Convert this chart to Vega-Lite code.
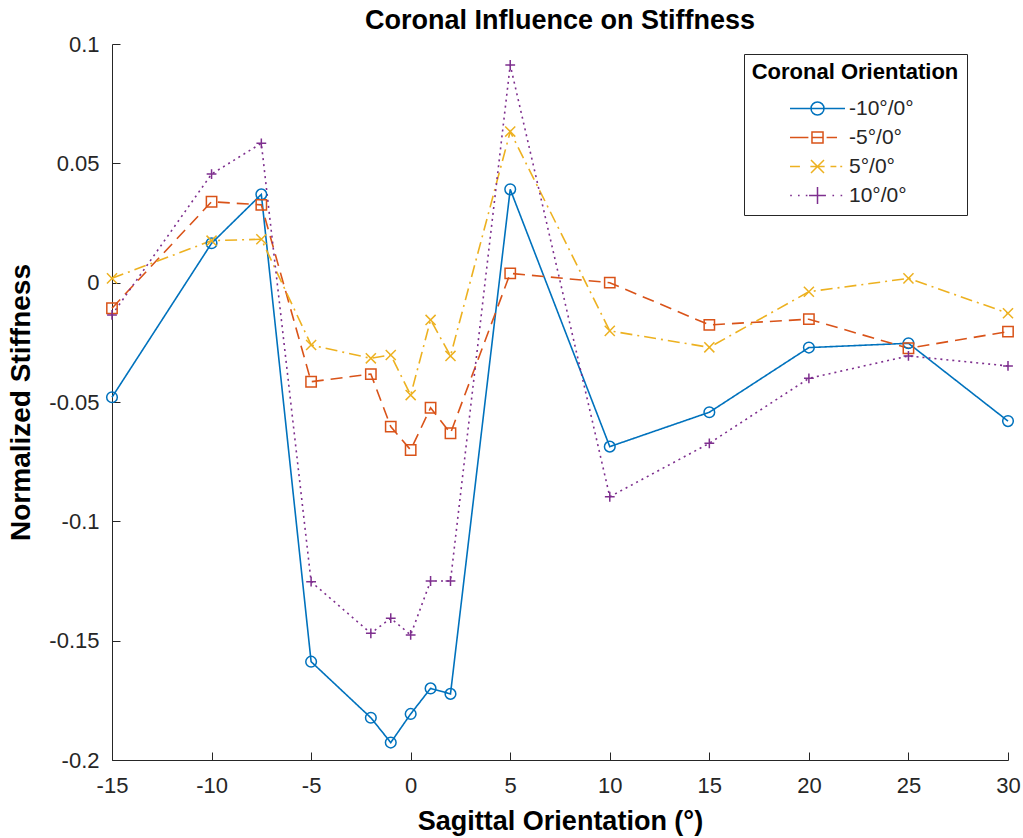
{
  "$schema": "https://vega.github.io/schema/vega-lite/v6.json",
  "width": 896,
  "height": 716,
  "autosize": "none",
  "padding": {"left": 112, "top": 44, "right": 15, "bottom": 78},
  "background": "white",
  "title": {"text": "Coronal Influence on Stiffness", "fontSize": 27, "fontWeight": "bold", "font": "Liberation Sans", "color": "#000000", "offset": 8, "dy": 10, "anchor": "middle", "frame": "group"},
  "data": {"values": [
    {"x": -15, "y": -0.048, "s": "-10°/0°"},
    {"x": -10, "y": 0.0165, "s": "-10°/0°"},
    {"x": -7.5, "y": 0.037, "s": "-10°/0°"},
    {"x": -5, "y": -0.1588, "s": "-10°/0°"},
    {"x": -2, "y": -0.1823, "s": "-10°/0°"},
    {"x": -1, "y": -0.1927, "s": "-10°/0°"},
    {"x": 0, "y": -0.1807, "s": "-10°/0°"},
    {"x": 1, "y": -0.170, "s": "-10°/0°"},
    {"x": 2, "y": -0.1723, "s": "-10°/0°"},
    {"x": 5, "y": 0.0391, "s": "-10°/0°"},
    {"x": 10, "y": -0.0687, "s": "-10°/0°"},
    {"x": 15, "y": -0.0543, "s": "-10°/0°"},
    {"x": 20, "y": -0.0272, "s": "-10°/0°"},
    {"x": 25, "y": -0.0254, "s": "-10°/0°"},
    {"x": 30, "y": -0.058, "s": "-10°/0°"},
    {"x": -15, "y": -0.0107, "s": "-5°/0°"},
    {"x": -10, "y": 0.0339, "s": "-5°/0°"},
    {"x": -7.5, "y": 0.0326, "s": "-5°/0°"},
    {"x": -5, "y": -0.0415, "s": "-5°/0°"},
    {"x": -2, "y": -0.0383, "s": "-5°/0°"},
    {"x": -1, "y": -0.0603, "s": "-5°/0°"},
    {"x": 0, "y": -0.0701, "s": "-5°/0°"},
    {"x": 1, "y": -0.0524, "s": "-5°/0°"},
    {"x": 2, "y": -0.0631, "s": "-5°/0°"},
    {"x": 5, "y": 0.0039, "s": "-5°/0°"},
    {"x": 10, "y": 0.0, "s": "-5°/0°"},
    {"x": 15, "y": -0.0177, "s": "-5°/0°"},
    {"x": 20, "y": -0.0153, "s": "-5°/0°"},
    {"x": 25, "y": -0.0275, "s": "-5°/0°"},
    {"x": 30, "y": -0.0205, "s": "-5°/0°"},
    {"x": -15, "y": 0.0018, "s": "5°/0°"},
    {"x": -10, "y": 0.0176, "s": "5°/0°"},
    {"x": -7.5, "y": 0.0182, "s": "5°/0°"},
    {"x": -5, "y": -0.0261, "s": "5°/0°"},
    {"x": -2, "y": -0.0317, "s": "5°/0°"},
    {"x": -1, "y": -0.0303, "s": "5°/0°"},
    {"x": 0, "y": -0.0471, "s": "5°/0°"},
    {"x": 1, "y": -0.0156, "s": "5°/0°"},
    {"x": 2, "y": -0.0307, "s": "5°/0°"},
    {"x": 5, "y": 0.0633, "s": "5°/0°"},
    {"x": 10, "y": -0.0202, "s": "5°/0°"},
    {"x": 15, "y": -0.0271, "s": "5°/0°"},
    {"x": 20, "y": -0.0038, "s": "5°/0°"},
    {"x": 25, "y": 0.0018, "s": "5°/0°"},
    {"x": 30, "y": -0.0128, "s": "5°/0°"},
    {"x": -15, "y": -0.0135, "s": "10°/0°"},
    {"x": -10, "y": 0.0455, "s": "10°/0°"},
    {"x": -7.5, "y": 0.0584, "s": "10°/0°"},
    {"x": -5, "y": -0.1253, "s": "10°/0°"},
    {"x": -2, "y": -0.1469, "s": "10°/0°"},
    {"x": -1, "y": -0.1406, "s": "10°/0°"},
    {"x": 0, "y": -0.1476, "s": "10°/0°"},
    {"x": 1, "y": -0.125, "s": "10°/0°"},
    {"x": 2, "y": -0.125, "s": "10°/0°"},
    {"x": 5, "y": 0.0912, "s": "10°/0°"},
    {"x": 10, "y": -0.0897, "s": "10°/0°"},
    {"x": 15, "y": -0.0673, "s": "10°/0°"},
    {"x": 20, "y": -0.0401, "s": "10°/0°"},
    {"x": 25, "y": -0.0307, "s": "10°/0°"},
    {"x": 30, "y": -0.0349, "s": "10°/0°"}
  ]},
  "encoding": {
    "x": {
      "field": "x", "type": "quantitative",
      "scale": {"domain": [-15, 30], "nice": false, "zero": false},
      "axis": {
        "title": "Sagittal Orientation (°)",
        "titleFontSize": 27,
        "values": [-15, -10, -5, 0, 5, 10, 15, 20, 25, 30],
        "format": "d",
        "labelExpr": "replace(datum.label, '\u2212', '-')",
        "labelFlush": false,
        "labelPadding": 23,
        "titlePadding": 12
      }
    },
    "y": {
      "field": "y", "type": "quantitative",
      "scale": {"domain": [-0.2, 0.1], "nice": false, "zero": false},
      "axis": {
        "title": "Normalized Stiffness",
        "titleFontSize": 28,
        "values": [-0.2, -0.15, -0.1, -0.05, 0, 0.05, 0.1],
        "format": "~g",
        "labelExpr": "replace(datum.label, '\u2212', '-')",
        "labelOverlap": false,
        "labelPadding": 21,
        "titlePadding": 13
      }
    },
    "color": {
      "field": "s", "type": "nominal",
      "scale": {"domain": ["-10°/0°", "-5°/0°", "5°/0°", "10°/0°"], "range": ["#0072BD", "#D95319", "#EDB120", "#7E2F8E"]},
      "legend": {
        "title": "Coronal Orientation",
        "orient": "none",
        "legendX": 632,
        "legendY": 10,
        "strokeColor": "#262626",
        "fillColor": "white",
        "padding": 8,
        "titleAnchor": "middle",
        "titleFontSize": 22,
        "titleFontWeight": "bold",
        "titleColor": "#000000",
        "titleFont": "Liberation Sans",
        "titleLimit": 400,
        "titlePadding": 14,
        "labelFontSize": 21,
        "labelFont": "Liberation Sans",
        "labelColor": "#262626",
        "labelLimit": 300,
        "symbolSize": 169,
        "symbolStrokeWidth": 1.5,
        "symbolOffset": 10,
        "labelOffset": 21,
        "rowPadding": 7,
        "encode": {
          "symbols": {
            "update": {
              "shape": {"signal": "datum.value === '-10°/0°' ? 'M-4.23,0L4.23,0M-1,0A1,1,0,1,1,1,0A1,1,0,1,1,-1,0' : datum.value === '-5°/0°' ? 'M-4.23,0H-1.4M-0.85,-0.85H0.85V0.85H-0.85ZM-0.85,0H0.85M1.4,0H3.0' : datum.value === '5°/0°' ? 'M-4.23,0H-2.7M-1.1,0H1.1M-1,-1L1,1M-1,1L1,-1M2.0,0H2.9M3.5,0H3.8' : 'M-4.2,0H-3.95M-3.0,0H-2.75M-1.8,0H-1.55M-1.3,0H1.3M0,-1.3V1.3M2.3,0H2.55M3.55,0H3.8'"},
              "fill": {"value": "transparent"},
              "strokeDash": {"value": []},
              "strokeWidth": {"value": 1.5}
            }
          }
        }
      }
    }
  },
  "layer": [
    {
      "mark": {"type": "line", "strokeWidth": 1.6},
      "encoding": {
        "order": {"field": "x", "type": "quantitative"},
        "strokeDash": {
          "field": "s", "type": "nominal",
          "scale": {"domain": ["-10°/0°", "-5°/0°", "5°/0°", "10°/0°", "none"], "range": [[1, 0], [12, 7], [12, 5, 2, 5], [2, 4], [1, 0]]},
          "legend": null
        }
      }
    },
    {
      "mark": {"type": "point", "filled": false, "strokeWidth": 1.5, "opacity": 1},
      "encoding": {
        "shape": {
          "field": "s", "type": "nominal",
          "scale": {"domain": ["-10°/0°", "-5°/0°", "5°/0°", "10°/0°", "none "], "range": ["circle", "square", "M-1,-1L1,1M-1,1L1,-1", "M-1,0L1,0M0,-1L0,1", "circle"]},
          "legend": null
        },
        "size": {
          "field": "s", "type": "nominal",
          "scale": {"domain": ["-10°/0°", "-5°/0°", "5°/0°", "10°/0°", "none  "], "range": [113, 90, 180, 280, 100]},
          "legend": null
        }
      }
    }
  ],
  "config": {
    "font": "Liberation Sans",
    "view": {"stroke": null},
    "axis": {
      "grid": false,
      "domainColor": "#262626",
      "tickColor": "#262626",
      "labelColor": "#262626",
      "labelFont": "Liberation Sans",
      "titleFont": "Liberation Sans",
      "labelFontSize": 22,
      "titleFontWeight": "bold",
      "titleColor": "#000000",
      "tickSize": -8,
      "domainWidth": 1,
      "tickWidth": 1
    }
  }
}
